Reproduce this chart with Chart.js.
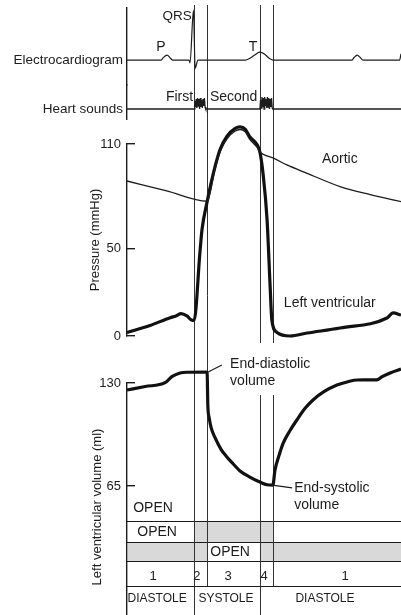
<!DOCTYPE html>
<html>
<head>
<meta charset="utf-8">
<title>Cardiac cycle</title>
<script src="https://cdn.jsdelivr.net/npm/chart.js@4.4.1/dist/chart.umd.min.js"></script>
<style>
  html, body { margin: 0; padding: 0; background: #fff; }
  canvas { display: block; }
</style>
</head>
<body>
<canvas id="wiggers" width="401" height="615"></canvas>
<script>
// time runs in ms from the left edge of the traces
const eventTimes = [196, 234, 388, 426]; // mitral closes, aortic opens, aortic closes, mitral opens

const ecgTime = [0, 100, 105, 117, 126, 133, 181, 184, 194, 199, 207, 345, 360, 376, 388, 402, 415, 426, 657, 663, 672, 681, 689, 796, 800];
const ecgMv   = [0, 0, 0.05, 0.12, 0.05, 0, 0, -0.07, 1.2, -0.2, 0, 0, 0.05, 0.14, 0.19, 0.14, 0.04, 0, 0, 0.06, 0.12, 0.06, 0, 0, 0.15];

const soundTime = [0, 196, 198, 200, 202, 204, 206, 208, 210, 212, 214, 216, 218, 220, 222, 224, 226, 228, 230,
  388, 390, 392, 394, 396, 398, 400, 402, 404, 406, 408, 410, 412, 414, 416, 418, 420, 422, 424, 426, 800];
const soundAmp  = [0, 0, 8, 2, 10, 1, 11, 3, 10, 0, 11, 2, 9, 1, 10, 3, 11, 2, 0,
  0, 9, 1, 12, 2, 11, 0, 12, 3, 10, 1, 12, 2, 11, 0, 10, 2, 11, 1, 0, 0];

const aorticTime  = [0, 116, 234, 257, 272, 292, 315, 330, 345, 359, 380, 388, 403, 426, 467, 526, 622, 710, 800];
const aorticMmHg  = [88.8, 83.1, 77.2, 95.5, 105.5, 113, 117.3, 118.3, 117, 112.5, 108, 105.4, 103.6, 102, 98, 93.2, 85.6, 81, 77];

const lvTime = [0, 67, 126, 143, 158, 175, 190, 196, 213, 219, 234, 257, 272, 292, 315, 330, 345, 359, 380, 388, 397, 409, 418, 423, 438, 476, 526, 622, 759, 777, 800];
const lvMmHg = [2, 6, 10.5, 11.5, 12.8, 11.5, 9, 9, 48, 61, 77, 97, 107, 114.5, 118.8, 119.8, 118.5, 114, 109.5, 105.4, 93.4, 66.5, 28, 9, 2, 0, 1.7, 4.6, 10.3, 13.2, 12];

const volTime = [0, 53, 111, 131, 155, 175, 231, 234, 236, 240, 246, 257, 275, 291, 310, 330, 360, 388, 409, 426,
  432, 445, 456, 476, 496, 520, 543, 575, 613, 645, 672, 730, 745, 770, 800];
const volMl   = [125.6, 127.8, 130.2, 134, 136.3, 136.8, 136.9, 136.5, 116, 108, 101.5, 95.5, 88, 83.5, 79, 74.5, 70.5, 67.5, 65.8, 65.6,
  75, 85, 92, 100, 106.7, 114, 119.3, 124.5, 128.7, 130.8, 131.9, 132, 134, 136.5, 138.8];

const pressureTicks = [0, 50, 110];
const volumeTicks = [65, 130];

// valve table under the traces
const valveOpenTimes = [76, 88, 301];          // where "OPEN" sits in each row
const valveClosed = [[], [[196, 426]], [[0, 234], [388, 800]]];
const phaseLabels = ['1', '2', '3', '4', '1'];
const phaseLabelTimes = [76, 204, 295, 400, 637];
const cycleLabels = ['DIASTOLE', 'SYSTOLE', 'DIASTOLE'];
const cycleLabelTimes = [88, 289, 578];

const FONT = "'Liberation Sans', Arial, Helvetica, sans-serif";
const INK = '#1c1c1c';
const tableRowHeights = [35, 21, 19, 25, 29];

const pts = (xs, ys) => xs.map((t, i) => ({x: t, y: ys[i]}));

// one horizontal strip of the left stack
function band(weight, opts) {
  return Object.assign({
    type: 'linear',
    position: 'left',
    stack: 'traces',
    stackWeight: weight,
    border: {display: true, color: INK, width: 1.4},
    grid: {display: false, drawTicks: false},
    ticks: {display: false},
    afterFit: s => { s.width = 127; s.paddingTop = 0; s.paddingBottom = 0; }
  }, opts);
}
const tickedGrid = {display: true, drawOnChartArea: false, drawTicks: true, tickLength: -8, color: INK, lineWidth: 1.4};
const tickFont = {display: true, padding: 14, autoSkip: false, color: INK, font: {family: FONT, size: 13}};
const rowLabel = text => ({display: true, padding: 4, autoSkip: false, color: INK, font: {family: FONT, size: 13.5}, callback: () => text});

const diagram = {
  id: 'diagram',
  beforeDatasetsDraw(chart) {
    const {ctx, chartArea: a, scales: {x, tbl}} = chart;
    const edges = [tbl.top];
    tableRowHeights.forEach(h => edges.push(edges[edges.length - 1] + h));
    ctx.save();
    // closed valve cells
    ctx.fillStyle = '#d9d9d9';
    valveClosed.forEach((spans, r) => spans.forEach(([t0, t1]) => {
      const x0 = Math.max(x.getPixelForValue(t0), a.left + 1);
      ctx.fillRect(x0, edges[r], x.getPixelForValue(t1) - x0, edges[r + 1] - edges[r]);
    }));
    ctx.strokeStyle = INK;
    ctx.lineWidth = 1.2;
    ctx.beginPath();
    for (let r = 1; r <= 4; r++) {
      const y = Math.round(edges[r]) + 0.5;
      ctx.moveTo(a.left, y); ctx.lineTo(a.right, y);
    }
    ctx.stroke();
    // event lines
    ctx.strokeStyle = '#333';
    ctx.lineWidth = 1;
    ctx.beginPath();
    eventTimes.forEach((t, i) => {
      const px = Math.round(x.getPixelForValue(t)) + 0.5;
      const bottom = i % 2 === 0 ? edges[5] : edges[4];
      if (i >= 2) {
        ctx.moveTo(px, 5); ctx.lineTo(px, 343);
        ctx.moveTo(px, 395); ctx.lineTo(px, bottom);
      } else {
        ctx.moveTo(px, 5); ctx.lineTo(px, bottom);
      }
    });
    ctx.stroke();
    ctx.restore();
  },
  afterDatasetsDraw(chart) {
    const {ctx, scales: {x, ecg, snd, pres, vol, tbl}} = chart;
    const edges = [tbl.top];
    tableRowHeights.forEach(h => edges.push(edges[edges.length - 1] + h));
    ctx.save();
    ctx.fillStyle = INK;
    ctx.textBaseline = 'middle';
    const put = (s, px, py, align, size) => {
      ctx.font = `${size || 14}px ${FONT}`;
      ctx.textAlign = align || 'left';
      ctx.fillText(s, px, py);
    };
    put('P', x.getPixelForValue(99), ecg.getPixelForValue(0.31), 'center');
    put('QRS', x.getPixelForValue(146), ecg.getPixelForValue(1.06), 'center', 13.5);
    put('T', x.getPixelForValue(368), ecg.getPixelForValue(0.31), 'center');
    put('First', x.getPixelForValue(193), snd.getPixelForValue(12), 'right');
    put('Second', x.getPixelForValue(242), snd.getPixelForValue(12), 'left');
    put('Aortic', x.getPixelForValue(569), pres.getPixelForValue(101.4));
    put('Left ventricular', x.getPixelForValue(458), pres.getPixelForValue(18.9));
    put('End-diastolic', x.getPixelForValue(301), vol.getPixelForValue(142));
    put('volume', x.getPixelForValue(301), vol.getPixelForValue(131.3));
    put('End-systolic', x.getPixelForValue(488), vol.getPixelForValue(63.8));
    put('volume', x.getPixelForValue(488), vol.getPixelForValue(53));
    // leaders
    ctx.strokeStyle = INK;
    ctx.lineWidth = 1.2;
    ctx.beginPath();
    ctx.moveTo(x.getPixelForValue(237), vol.getPixelForValue(136.9));
    ctx.lineTo(x.getPixelForValue(277), vol.getPixelForValue(141.4));
    ctx.moveTo(x.getPixelForValue(424), vol.getPixelForValue(65.6));
    ctx.lineTo(x.getPixelForValue(482), vol.getPixelForValue(63.8));
    ctx.stroke();
    // table text
    valveOpenTimes.forEach((t, r) => put('OPEN', x.getPixelForValue(t), (edges[r] + edges[r + 1]) / 2 + (r === 0 ? 5 : 1), 'center'));
    phaseLabels.forEach((s, i) => put(s, x.getPixelForValue(phaseLabelTimes[i]), (edges[3] + edges[4]) / 2 + 3, 'center', 13));
    cycleLabels.forEach((s, i) => put(s, x.getPixelForValue(cycleLabelTimes[i]), (edges[4] + edges[5]) / 2 - 2, 'center', 12));
    // volume axis title
    ctx.translate(97, 507);
    ctx.rotate(-Math.PI / 2);
    put('Left ventricular volume (ml)', 0, 0, 'center', 13);
    ctx.restore();
  }
};

new Chart(document.getElementById('wiggers'), {
  type: 'line',
  data: {
    datasets: [
      {label: 'Electrocardiogram', data: pts(ecgTime, ecgMv), yAxisID: 'ecg', borderColor: INK, borderWidth: 1.2, cubicInterpolationMode: 'monotone'},
      {label: 'Heart sounds', data: pts(soundTime, soundAmp), yAxisID: 'snd', borderColor: INK, borderWidth: 1.3, tension: 0},
      {label: 'Aortic', data: pts(aorticTime, aorticMmHg), yAxisID: 'pres', borderColor: INK, borderWidth: 1.3, cubicInterpolationMode: 'monotone'},
      {label: 'Left ventricular', data: pts(lvTime, lvMmHg), yAxisID: 'pres', borderColor: '#111', borderWidth: 3.2, cubicInterpolationMode: 'monotone'},
      {label: 'Volume', data: pts(volTime, volMl), yAxisID: 'vol', borderColor: '#111', borderWidth: 3.2, cubicInterpolationMode: 'monotone'}
    ]
  },
  options: {
    responsive: false,
    animation: false,
    events: [],
    layout: {padding: 0},
    elements: {point: {radius: 0}, line: {fill: false}},
    datasets: {line: {clip: false}},
    plugins: {legend: {display: false}, tooltip: {enabled: false}},
    scales: {
      x: {type: 'linear', min: 0, max: 800, display: false},
      // listed bottom strip first: the stack is laid out in reverse
      tbl: band(129, {}),
      vol: band(103, {min: 65, max: 130, grid: tickedGrid, ticks: tickFont,
        afterBuildTicks: s => { s.ticks = volumeTicks.map(v => ({value: v})); }}),
      gap2: band(47, {border: {display: false}}),
      pres: band(192, {min: 0, max: 110, grid: tickedGrid, ticks: tickFont,
        afterBuildTicks: s => { s.ticks = pressureTicks.map(v => ({value: v})); },
        title: {display: true, text: 'Pressure (mmHg)', color: INK, font: {family: FONT, size: 13}, padding: {top: 88, bottom: 0}}}),
      gap1: band(25, {border: {display: false}}),
      snd: band(34, {min: -10, max: 24, ticks: rowLabel('Heart sounds'),
        afterBuildTicks: s => { s.ticks = [{value: 0}]; }}),
      ecg: band(77, {min: -0.6, max: 1.25, ticks: rowLabel('Electrocardiogram'),
        afterBuildTicks: s => { s.ticks = [{value: 0}]; }}),
      gap0: band(8, {border: {display: false}})
    }
  },
  plugins: [diagram]
});
</script>
</body>
</html>
